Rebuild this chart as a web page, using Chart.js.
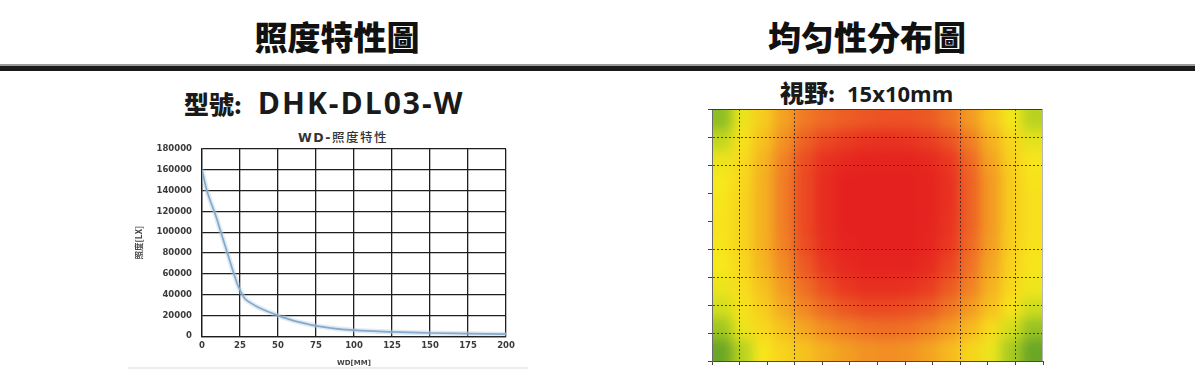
<!DOCTYPE html>
<html>
<head>
<meta charset="utf-8">
<script src="https://cdn.jsdelivr.net/npm/chart.js@4/dist/chart.umd.min.js"></script>
<style>
  html, body { margin:0; padding:0; background:#fff; }
  body { width:1195px; height:373px; position:relative; overflow:hidden; font-family:"Noto Sans CJK TC", sans-serif; }
  .abs { position:absolute; white-space:nowrap; }
  .head { font-family:"Noto Sans CJK TC"; font-weight:900; font-size:33px; line-height:1; color:#111; transform:translateX(-50%); }
  .bar { position:absolute; left:0; top:66px; width:1195px; height:5px; background:#1b1b1b; }
  .bar:before { content:""; position:absolute; left:0; top:-2px; width:1195px; height:2px; background:#9a9a9a; }
  .model { font-weight:700; color:#1a1a1a; line-height:1; }
  .cjk { font-family:"Noto Sans CJK TC"; font-weight:900; }
  .lat { font-family:"Open Sans"; font-weight:700; }
  canvas { position:absolute; }
</style>
</head>
<body>
<div class="abs head" style="left:337px; top:20px;">照度特性圖</div>
<div class="abs head" style="left:867px; top:20px;">均匀性分布圖</div>
<div class="bar"></div>

<div class="abs model" style="left:184px; top:88px;"><span class="cjk" style="font-size:25px;">型號</span><span class="cjk" style="font-size:22px;">:</span><span class="lat" style="font-size:30px; letter-spacing:2px; margin-left:16px;">DHK-DL03-W</span></div>
<div class="abs" style="left:343px; top:127px; transform:translateX(-50%); font-size:12.5px; font-weight:700; color:#333; letter-spacing:1.5px; font-family:'DejaVu Sans','Noto Sans CJK TC';">WD-<span style="font-family:'Noto Sans CJK TC'; font-weight:500;">照度特性</span></div>

<div class="abs model" style="left:780px; top:80px;"><span class="cjk" style="font-size:24px;">視野</span><span class="cjk" style="font-size:20px;">:</span><span class="lat" style="font-size:22px; margin-left:12px;">15x10mm</span></div>

<div class="abs" style="left:128px; top:367px; width:400px; height:2px; background:#ececec;"></div>

<canvas id="lux" width="410" height="245" style="left:120px; top:125px; width:410px; height:245px;"></canvas>
<canvas id="heat" width="350" height="265" style="left:700px; top:105px; width:350px; height:265px;"></canvas>

<script>
// ---------- Illuminance characteristic (WD vs lux) ----------
const WD_MM = [0, 3, 6, 9, 12, 15, 18, 21, 24, 26, 28, 32, 36, 42, 50, 59, 70, 75, 85, 100, 125, 150, 175, 200];
const LUX   = [160000, 141000, 128000, 116000, 102000, 88000, 74000, 60000, 47500, 41500, 36500, 32000, 28500, 24400, 19900, 15400, 11500, 9900, 7800, 5800, 4100, 3100, 2500, 1900];
const X_TICK_STEP = 25;
const Y_TICK_STEP = 20000;

// ---------- Uniformity distribution (relative level, 16 columns x 12 rows, top row first) ----------
const HEAT_COLS = 16;
const HEAT_ROWS = 12;
const uniformityRows = [
  [20, 42, 55, 66, 76, 80, 83, 85, 86, 86, 84, 78, 68, 57, 44, 30],
  [32, 47, 58, 70, 82, 88, 91, 93, 94, 93, 91, 86, 75, 62, 51, 40],
  [42, 50, 61, 74, 87, 94, 97, 99, 99, 99, 97, 92, 80, 66, 54, 46],
  [45, 51, 62, 75, 88, 96, 100, 100, 100, 100, 99, 94, 82, 68, 55, 47],
  [46, 52, 62, 75, 88, 96, 100, 100, 100, 100, 99, 94, 82, 68, 55, 48],
  [47, 52, 62, 75, 88, 96, 100, 100, 100, 100, 99, 93, 82, 68, 55, 48],
  [46, 52, 62, 74, 87, 95, 99, 100, 100, 100, 98, 92, 80, 67, 54, 47],
  [45, 51, 61, 72, 84, 92, 97, 99, 99, 99, 96, 89, 78, 65, 53, 46],
  [42, 49, 58, 68, 79, 87, 92, 95, 95, 94, 91, 84, 74, 62, 51, 43],
  [36, 47, 55, 64, 73, 80, 85, 88, 88, 87, 84, 77, 68, 58, 47, 35],
  [24, 42, 51, 58, 65, 71, 75, 78, 79, 78, 74, 68, 60, 50, 36, 22],
  [8, 30, 46, 53, 58, 63, 67, 70, 71, 70, 66, 60, 52, 42, 26, 8]
];
const HEAT_X_MAX = 12;          // field divisions (x)
const HEAT_Y_MAX = 9;           // field divisions (y)
const HEAT_X_LINES = [1, 3, 9, 11];
const HEAT_Y_LINES = [1, 2, 5, 6, 7, 8];

// ---------- chart 1 ----------
const luxPoints = WD_MM.map((x, i) => ({ x: x, y: LUX[i] }));
const tickFont = { family: 'DejaVu Sans', size: 8.5, weight: 'bold' };

new Chart(document.getElementById('lux'), {
  type: 'line',
  data: {
    datasets: [
      { data: luxPoints, borderColor: 'rgba(175,203,228,0.4)', borderWidth: 5, pointRadius: 0, cubicInterpolationMode: 'monotone', fill: false },
      { data: luxPoints, borderColor: '#6b92b8', borderWidth: 1.7, pointRadius: 0, cubicInterpolationMode: 'monotone', fill: false }
    ]
  },
  options: {
    responsive: false, animation: false, events: [],
    layout: { autoPadding: false, padding: { left: 10, right: 24, top: 24, bottom: 3 } },
    plugins: { legend: { display: false }, tooltip: { enabled: false }, title: { display: false } },
    scales: {
      x: {
        type: 'linear', min: 0, max: 200,
        ticks: { stepSize: X_TICK_STEP, padding: 4, font: tickFont, color: '#3a3a3a', maxRotation: 0, autoSkip: false, callback: v => String(v) },
        grid: { color: '#1e1e1e', lineWidth: 1.3, drawTicks: false },
        border: { color: '#1e1e1e', width: 1.3 },
        title: { display: true, text: 'WD[MM]', font: { family: 'DejaVu Sans', size: 7, weight: 'bold' }, color: '#444', padding: { top: 4, bottom: 0 } },
        afterFit: s => { s.height = 30.8; }
      },
      y: {
        min: 0, max: 180000,
        ticks: { stepSize: Y_TICK_STEP, padding: 10, font: tickFont, color: '#3a3a3a', autoSkip: false, callback: v => String(v) },
        grid: { color: '#1e1e1e', lineWidth: 1.3, drawTicks: false },
        border: { color: '#1e1e1e', width: 1.3 },
        title: { display: true, text: '照度[LX]', font: { family: 'Noto Sans CJK TC', size: 8.5, weight: 'bold' }, color: '#444', padding: { top: 4, bottom: 0 } },
        afterFit: s => { s.width = 72; }
      }
    }
  }
});

// ---------- chart 2 (heat map) ----------
const colorStops = [
  [0,   [84, 150, 40]],
  [20,  [142, 190, 36]],
  [35,  [206, 220, 30]],
  [45,  [247, 232, 28]],
  [55,  [247, 204, 30]],
  [65,  [244, 166, 34]],
  [75,  [240, 126, 37]],
  [85,  [236, 86, 36]],
  [93,  [232, 52, 33]],
  [100, [229, 33, 31]]
];
function levelColor(v) {
  for (let k = 1; k < colorStops.length; k++) {
    const [v1, c1] = colorStops[k];
    const [v0, c0] = colorStops[k - 1];
    if (v <= v1) {
      const t = (v - v0) / (v1 - v0);
      const c = c0.map((a, i) => Math.round(a + (c1[i] - a) * t));
      return `rgb(${c[0]},${c[1]},${c[2]})`;
    }
  }
  const c = colorStops[colorStops.length - 1][1];
  return `rgb(${c[0]},${c[1]},${c[2]})`;
}

const heatCells = [];
const heatColors = [];
uniformityRows.forEach((row, j) => {
  row.forEach((v, i) => {
    heatCells.push({ x: (i + 0.5) * HEAT_X_MAX / HEAT_COLS, y: (j + 0.5) * HEAT_Y_MAX / HEAT_ROWS, v: v });
    heatColors.push(levelColor(v));
  });
});

function boxBlur(data, w, h, r) {
  const tmp = new Float32Array(w * h * 3);
  for (let y = 0; y < h; y++) {
    for (let c = 0; c < 3; c++) {
      let sum = 0;
      for (let k = -r; k <= r; k++) {
        const xx = Math.min(w - 1, Math.max(0, k));
        sum += data[(y * w + xx) * 4 + c];
      }
      for (let x = 0; x < w; x++) {
        tmp[(y * w + x) * 3 + c] = sum / (2 * r + 1);
        const xo = Math.min(w - 1, Math.max(0, x - r));
        const xi = Math.min(w - 1, Math.max(0, x + r + 1));
        sum += data[(y * w + xi) * 4 + c] - data[(y * w + xo) * 4 + c];
      }
    }
  }
  for (let x = 0; x < w; x++) {
    for (let c = 0; c < 3; c++) {
      let sum = 0;
      for (let k = -r; k <= r; k++) {
        const yy = Math.min(h - 1, Math.max(0, k));
        sum += tmp[(yy * w + x) * 3 + c];
      }
      for (let y = 0; y < h; y++) {
        data[(y * w + x) * 4 + c] = sum / (2 * r + 1);
        const yo = Math.min(h - 1, Math.max(0, y - r));
        const yi = Math.min(h - 1, Math.max(0, y + r + 1));
        sum += tmp[(yi * w + x) * 3 + c] - tmp[(yo * w + x) * 3 + c];
      }
    }
  }
}

const smoothPlugin = {
  id: 'smoothField',
  afterDatasetsDraw(chart) {
    const a = chart.chartArea, ctx = chart.ctx, dpr = chart.currentDevicePixelRatio || 1;
    const x0 = Math.round(a.left * dpr), y0 = Math.round(a.top * dpr);
    const w = Math.round(a.right * dpr) - x0, h = Math.round(a.bottom * dpr) - y0;
    ctx.save();
    ctx.setTransform(1, 0, 0, 1, 0, 0);
    const img = ctx.getImageData(x0, y0, w, h);
    for (let p = 0; p < 3; p++) boxBlur(img.data, w, h, Math.round(5 * dpr));
    for (let i = 3; i < img.data.length; i += 4) img.data[i] = 255;
    ctx.putImageData(img, x0, y0);
    ctx.restore();
  },
  afterDraw(chart) {
    const a = chart.chartArea, ctx = chart.ctx;
    ctx.save();
    ctx.lineWidth = 1;
    ctx.strokeStyle = '#3a3a3a';
    ctx.beginPath(); ctx.moveTo(a.left, a.top + 0.5); ctx.lineTo(a.right, a.top + 0.5); ctx.stroke();
    ctx.strokeStyle = '#b5b5b5';
    ctx.beginPath(); ctx.moveTo(a.right - 0.5, a.top); ctx.lineTo(a.right - 0.5, a.bottom); ctx.stroke();
    ctx.restore();
  }
};

const lineCol = 'rgba(55,40,30,0.85)';
new Chart(document.getElementById('heat'), {
  type: 'scatter',
  data: {
    datasets: [{
      data: heatCells,
      pointStyle: 'rect',
      pointRadius: 15.6,
      pointHoverRadius: 15.6,
      borderWidth: 0,
      pointBorderWidth: 0,
      backgroundColor: heatColors,
      pointBackgroundColor: heatColors,
      clip: 0
    }]
  },
  options: {
    responsive: false, animation: false, events: [],
    layout: { autoPadding: false, padding: { left: 8, right: 7, top: 4, bottom: 5 } },
    plugins: { legend: { display: false }, tooltip: { enabled: false } },
    scales: {
      x: {
        type: 'linear', min: 0, max: HEAT_X_MAX,
        ticks: { display: false, stepSize: 1 },
        grid: {
          z: 1,
          color: c => HEAT_X_LINES.includes(c.tick && c.tick.value) ? lineCol : 'rgba(0,0,0,0)',
          lineWidth: 1, drawTicks: true, tickLength: 4, tickColor: '#444', tickWidth: 1
        },
        border: { z: 1, color: '#4a4a4a', width: 1, dash: [2, 2] },
        afterFit: s => { s.height = 4; }
      },
      y: {
        type: 'linear', min: 0, max: HEAT_Y_MAX, reverse: true,
        ticks: { display: false, stepSize: 1 },
        grid: {
          z: 1,
          color: c => HEAT_Y_LINES.includes(c.tick && c.tick.value) ? lineCol : 'rgba(0,0,0,0)',
          lineWidth: 1, drawTicks: true, tickLength: 4, tickColor: '#444', tickWidth: 1
        },
        border: { z: 1, color: '#6a6a6a', width: 1, dash: [2, 2] },
        afterFit: s => { s.width = 4; }
      }
    }
  },
  plugins: [smoothPlugin]
});
</script>
</body>
</html>
